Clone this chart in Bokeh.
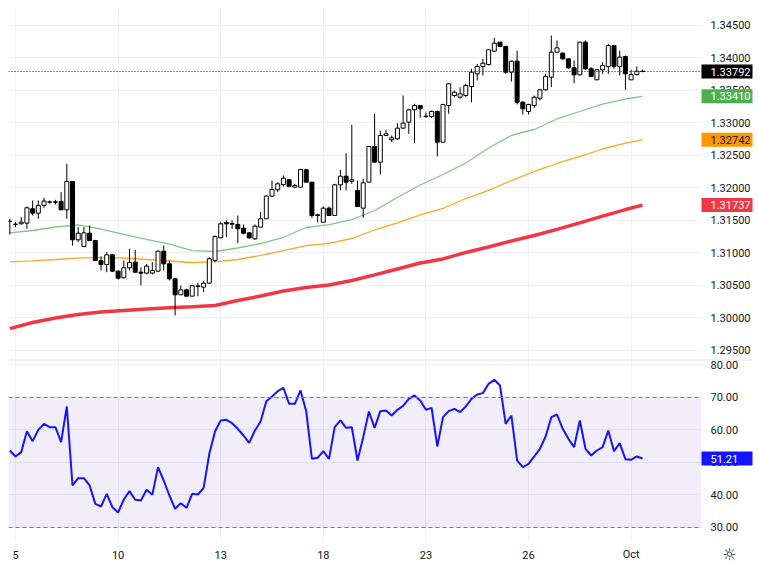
from bokeh.plotting import figure
from bokeh.layouts import column
from bokeh.models import (ColumnDataSource, FixedTicker, Span, BoxAnnotation, Label, Range1d)
from bokeh.embed import file_html
from bokeh.resources import INLINE

# ---------------- data ----------------
opens = [1.31490,1.31439,1.31449,1.31459,1.31680,1.31613,1.31731,1.31782,1.31787,1.31792,
         1.31664,1.32100,1.31203,1.31100,1.31305,1.31192,1.30885,1.30823,1.30972,1.30721,
         1.30618,1.30772,1.30859,1.30705,1.30690,1.30690,1.30721,1.31028,1.30833,1.30603,
         1.30357,1.30433,1.30336,1.30485,1.30475,1.30536,1.30885,1.31234,1.31469,1.31454,
         1.31439,1.31382,1.31310,1.31218,1.31398,1.31526,1.31875,1.31972,1.32054,1.32126,
         1.32013,1.32013,1.32280,1.32090,1.31587,1.31474,1.31690,1.31577,1.32049,1.32182,
         1.32105,1.31962,1.31690,1.32090,1.32639,1.32398,1.32808,1.32741,1.32757,1.32921,
         1.33013,1.33203,1.33269,1.33105,1.33100,1.33177,1.32705,1.33269,1.33423,1.33397,
         1.33423,1.33561,1.33756,1.33869,1.33900,1.34105,1.34244,1.34177,1.33782,1.33951,
         1.33320,1.33177,1.33269,1.33382,1.33510,1.33705,1.34090,1.34074,1.33987,1.33849,
         1.33741,1.34244,1.33833,1.33664,1.33818,1.33869,1.34192,1.33869,1.34023,1.33664,
         1.33746,1.33797]
highs = [1.31526,1.31474,1.31551,1.31715,1.31808,1.31808,1.31849,1.31808,1.31818,1.31936,
         1.32372,1.32105,1.31398,1.31398,1.31423,1.31203,1.30946,1.31013,1.30987,1.30731,
         1.30885,1.31064,1.31049,1.30782,1.30833,1.30859,1.31039,1.31115,1.30885,1.30613,
         1.30500,1.30449,1.30500,1.30541,1.30577,1.30936,1.31270,1.31474,1.31500,1.31500,
         1.31577,1.31439,1.31321,1.31439,1.31628,1.31885,1.32116,1.32090,1.32192,1.32141,
         1.32064,1.32295,1.32295,1.32090,1.31603,1.31716,1.31716,1.32064,1.32280,1.32536,
         1.32972,1.32116,1.32141,1.32639,1.33141,1.32885,1.32895,1.32808,1.32998,1.33423,
         1.33218,1.33295,1.33269,1.33160,1.33192,1.33192,1.33295,1.33613,1.33500,1.33551,
         1.33603,1.33833,1.33910,1.33987,1.34141,1.34310,1.34244,1.34192,1.33962,1.34115,
         1.33336,1.33295,1.33423,1.33526,1.33756,1.34346,1.34269,1.34090,1.33987,1.33961,
         1.34244,1.34269,1.33859,1.33833,1.33936,1.34218,1.34192,1.34115,1.34038,1.33818,
         1.33869,1.33818]
lows = [1.31285,1.31398,1.31439,1.31372,1.31577,1.31526,1.31695,1.31757,1.31746,1.31664,
        1.31526,1.31115,1.31167,1.31090,1.31192,1.30874,1.30731,1.30705,1.30705,1.30592,
        1.30613,1.30731,1.30695,1.30500,1.30669,1.30669,1.30705,1.30731,1.30577,1.30039,
        1.30357,1.30336,1.30336,1.30336,1.30398,1.30526,1.30859,1.31234,1.31244,1.31372,
        1.31151,1.31285,1.31218,1.31203,1.31398,1.31526,1.31859,1.31936,1.32023,1.32013,
        1.32003,1.32013,1.32090,1.31541,1.31474,1.31474,1.31577,1.31577,1.31962,1.31962,
        1.32064,1.31716,1.31541,1.32090,1.32398,1.32208,1.32798,1.32705,1.32741,1.32910,
        1.32833,1.32690,1.33080,1.33079,1.33079,1.32485,1.32705,1.33141,1.33397,1.33372,
        1.33397,1.33320,1.33654,1.33731,1.33885,1.34090,1.34167,1.33756,1.33638,1.33285,
        1.33131,1.33131,1.33233,1.33346,1.33500,1.33551,1.34074,1.33972,1.33833,1.33613,
        1.33731,1.33818,1.33705,1.33664,1.33756,1.33756,1.33833,1.33731,1.33510,1.33664,
        1.33731,1.33782]
closes = [1.31485,1.31444,1.31474,1.31695,1.31613,1.31731,1.31798,1.31787,1.31782,1.31664,
          1.32100,1.31203,1.31305,1.31310,1.31192,1.30885,1.30823,1.30972,1.30721,1.30613,
          1.30772,1.30854,1.30705,1.30690,1.30798,1.30731,1.31028,1.30833,1.30603,1.30357,
          1.30433,1.30336,1.30495,1.30495,1.30536,1.30911,1.31254,1.31449,1.31449,1.31444,
          1.31372,1.31305,1.31234,1.31413,1.31526,1.31875,1.31977,1.32064,1.32151,1.32023,
          1.32039,1.32285,1.32090,1.31577,1.31577,1.31690,1.31577,1.32049,1.32182,1.32090,
          1.32126,1.31716,1.32080,1.32639,1.32398,1.32808,1.32833,1.32772,1.32921,1.32998,
          1.33203,1.33269,1.33218,1.33100,1.33177,1.32705,1.33285,1.33603,1.33474,1.33449,
          1.33577,1.33782,1.33869,1.33920,1.34126,1.34228,1.34177,1.33782,1.33951,1.33320,
          1.33218,1.33285,1.33397,1.33510,1.33715,1.34090,1.34156,1.33987,1.33849,1.33741,
          1.34244,1.33833,1.33715,1.33818,1.33885,1.34192,1.33869,1.34013,1.33756,1.33746,
          1.33797,1.33792]

ma_idx = [0,4,8,12,16,20,24,28,32,36,40,44,48,52,56,60,64,68,72,76,80,84,88,92,96,100,104,108,111]
ma_green = [1.31308,1.31346,1.31400,1.31431,1.31369,1.31285,1.31208,1.31138,1.31038,1.31023,
            1.31077,1.31146,1.31242,1.31392,1.31438,1.31515,1.31654,1.31854,1.32046,1.32208,
            1.32385,1.32615,1.32808,1.32900,1.33062,1.33177,1.33292,1.33369,1.33410]
ma_orange = [1.30862,1.30880,1.30900,1.30922,1.30934,1.30923,1.30900,1.30877,1.30854,1.30862,
             1.30900,1.30962,1.31038,1.31112,1.31149,1.31223,1.31354,1.31462,1.31585,1.31685,
             1.31838,1.31962,1.32115,1.32254,1.32377,1.32485,1.32600,1.32692,1.32742]
ma_red = [1.29838,1.29931,1.30000,1.30054,1.30092,1.30115,1.30138,1.30157,1.30172,1.30192,
          1.30269,1.30338,1.30415,1.30469,1.30508,1.30577,1.30662,1.30754,1.30846,1.30908,
          1.31008,1.31092,1.31185,1.31269,1.31362,1.31462,1.31569,1.31669,1.31737]

rsi = [53.69,51.85,53.18,59.64,56.57,60.05,61.90,60.87,60.87,56.26,
       67.23,42.93,45.18,45.18,42.93,37.28,36.46,40.36,36.26,34.62,
       38.62,41.18,38.52,38.31,41.59,40.05,48.57,44.46,39.85,35.75,
       37.49,36.05,40.36,40.16,42.21,52.67,59.54,62.93,63.13,62.10,
       60.36,58.31,56.05,59.85,62.62,68.87,70.31,71.95,72.98,68.05,
       68.05,72.16,65.80,51.13,51.44,53.49,51.13,60.87,62.93,60.67,
       60.87,50.62,57.80,65.69,60.67,65.80,66.00,64.46,66.21,67.44,
       69.59,70.62,69.08,66.21,66.82,54.93,63.95,65.80,66.52,65.49,
       67.23,69.59,70.93,71.34,74.21,75.44,73.69,61.90,64.46,50.62,
       48.57,49.59,51.85,54.21,58.00,63.95,64.77,60.36,57.28,54.72,
       62.93,54.21,52.16,53.69,54.72,59.85,53.49,55.95,51.03,50.82,
       51.85,51.21]

x_tick_pos = [1, 19, 37, 55, 73, 91, 109]
x_tick_labels = ["5", "10", "13", "18", "23", "26", "Oct"]
price_ticks = [1.295, 1.300, 1.305, 1.310, 1.315, 1.320, 1.325, 1.330, 1.335, 1.340, 1.345]
rsi_ticks = [30, 40, 50, 60, 70, 80]

last_close = closes[-1]
last_green = ma_green[-1]
last_orange = ma_orange[-1]
last_red = ma_red[-1]
last_rsi = rsi[-1]

# ---------------- layout constants ----------------
FONT = "Roboto"
TXT = "#131722"
GRID = "#eef0f4"
PX = 5.7                     # pixels per candle
X0 = -0.23                   # left edge of the frame (index units)
FRAME_W = 745
X_END = X0 + FRAME_W / PX
X_EDGE = X0 + 693 / PX       # right edge of the panes
X_TXT = X0 + 702 / PX        # left of axis text
X_BOX_R = X0 + 744 / PX      # right of value boxes
RSI_PX = 3.25                # pixels per RSI unit
RSI_TOP = 82.0               # top edge of the RSI frame
RSI_BOTTOM = 25.69           # bottom edge of the RSI pane
RSI_LABEL_Y = RSI_BOTTOM - 13 / RSI_PX
RSI_LOW = RSI_BOTTOM - 25 / RSI_PX

n = len(closes)
xs = list(range(n))
up = [c >= o for o, c in zip(opens, closes)]
src = ColumnDataSource(dict(
    x=xs, high=highs, low=lows,
    top=[max(o, c) for o, c in zip(opens, closes)],
    bottom=[min(o, c) for o, c in zip(opens, closes)],
    fill=["#ffffff" if u else "#000000" for u in up],
))

x_range = Range1d(X0, X_END)

def style(fig):
    fig.outline_line_color = None
    fig.background_fill_color = "#ffffff"
    fig.border_fill_color = "#ffffff"
    fig.xgrid.grid_line_color = GRID
    fig.ygrid.grid_line_color = GRID
    fig.xgrid.ticker = FixedTicker(ticks=x_tick_pos)

def axis_text(fig, yv, text):
    fig.add_layout(Label(x=X_TXT, y=yv, text=text, text_align="left", text_baseline="middle",
                         text_font=FONT, text_font_size="11px", text_color=TXT))

def value_box(fig, yv, half, text, bg, fg):
    fig.add_layout(BoxAnnotation(left=X_EDGE, right=X_BOX_R, bottom=yv - half, top=yv + half,
                                 fill_color=bg, fill_alpha=1, line_color=None, level="annotation"))
    fig.add_layout(Label(x=X_TXT, y=yv, text=text, text_align="left", text_baseline="middle",
                         text_font=FONT, text_font_size="11px", text_color=fg))

# ---------------- price pane ----------------
top = figure(frame_width=FRAME_W, frame_height=350, x_range=x_range,
             y_range=Range1d(1.293769, 1.347615),
             x_axis_location=None, y_axis_location=None,
             output_backend="svg", toolbar_location=None,
             min_border_left=8, min_border_top=8, min_border_bottom=0, min_border_right=0)
style(top)
top.ygrid.ticker = FixedTicker(ticks=price_ticks)

top.line(ma_idx, ma_red, line_color="#f23645", line_width=3.4)
top.line(ma_idx, ma_orange, line_color="#ffa726", line_width=1.3)
top.line(ma_idx, ma_green, line_color="#81c784", line_width=1.3)

top.segment(x0="x", y0="high", x1="x", y1="low", source=src, line_color="#000000", line_width=1)
top.vbar(x="x", width=0.7, top="top", bottom="bottom", source=src,
         fill_color="fill", line_color="#000000", line_width=1)

top.add_layout(Span(location=last_close, dimension="width", line_color=TXT,
                    line_dash="1 2", line_width=1))
top.add_layout(BoxAnnotation(left=X_EDGE, fill_color="#ffffff", fill_alpha=1,
                             line_color=None, level="annotation"))
for t in price_ticks:
    axis_text(top, t, f"{t:.5f}")
ph = 7 / 6500
value_box(top, last_close, ph, f"{last_close:.5f}", "#000000", "#ffffff")
value_box(top, last_green, ph, f"{last_green:.5f}", "#4caf50", "#ffffff")
value_box(top, last_orange, ph, f"{last_orange:.5f}", "#ff9800", TXT)
value_box(top, last_red, ph, f"{last_red:.5f}", "#f23645", "#ffffff")

# ---------------- RSI pane (with the time scale drawn inside its lower strip) ----------------
bot = figure(frame_width=FRAME_W, frame_height=208, x_range=x_range,
             y_range=Range1d(RSI_LOW, RSI_TOP), x_axis_location=None, y_axis_location=None,
             output_backend="svg", toolbar_location=None,
             min_border_left=8, min_border_top=0, min_border_bottom=0, min_border_right=0)
style(bot)
bot.ygrid.ticker = FixedTicker(ticks=rsi_ticks)

bot.add_layout(BoxAnnotation(bottom=30, top=70, right=X_EDGE, fill_color="#7e57c2",
                             fill_alpha=0.1, line_color=None, level="underlay"))
bot.add_layout(Span(location=70, dimension="width", line_color="#787b86",
                    line_dash="4 3", line_width=1))
bot.add_layout(Span(location=30, dimension="width", line_color="#787b86",
                    line_dash="4 3", line_width=1))

bot.line(list(range(len(rsi))), rsi, line_color="#1414ff", line_width=2)

# white masks over the price-scale column and the time-scale strip
bot.add_layout(BoxAnnotation(left=X_EDGE, fill_color="#ffffff", fill_alpha=1,
                             line_color=None, level="annotation"))
bot.add_layout(BoxAnnotation(top=RSI_BOTTOM, fill_color="#ffffff", fill_alpha=1,
                             line_color=None, level="annotation"))
bot.add_layout(Span(location=RSI_TOP - 1.5 / RSI_PX, dimension="width",
                    line_color="#e0e3eb", line_width=1))
for t in rsi_ticks:
    axis_text(bot, t, f"{t:.2f}")
value_box(bot, last_rsi, 7 / RSI_PX, f"{last_rsi:.2f}", "#1414ff", "#ffffff")

for p, t in zip(x_tick_pos, x_tick_labels):
    bot.add_layout(Label(x=p, y=RSI_LABEL_Y, text=t, text_align="center",
                         text_baseline="middle", text_font=FONT, text_font_size="11px",
                         text_color=TXT))
bot.add_layout(Label(x=X0 + 721 / PX, y=RSI_LABEL_Y, text="☼", text_align="center",
                     text_baseline="middle", text_font="DejaVu Sans", text_font_size="16px",
                     text_color=TXT))

layout = column(top, bot, spacing=0)
open("out.html", "w").write(file_html(layout, INLINE))
